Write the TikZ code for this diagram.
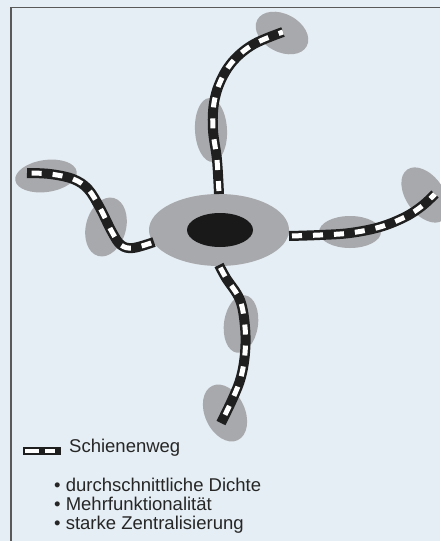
\documentclass[tikz,border=0pt]{standalone}
\usepackage{fontspec}
\setmainfont{Liberation Sans}
\begin{document}
\begin{tikzpicture}[x=1pt,y=-1pt,
  blob/.style={fill=blobgray},
  railbase/.style={line width=10pt, draw=black!88, line cap=butt},
  railtop/.style={line width=5pt, draw=white, dash pattern=on 10pt off 11pt, dash phase=-3pt},
  legtext/.style={font=\fontsize{18.5}{19}\selectfont, text=black!85, anchor=base west, inner sep=0pt}]
\definecolor{bgblue}{HTML}{E5EEF4}
\definecolor{blobgray}{HTML}{A8A9AD}
\useasboundingbox (0,0) rectangle (440,541);
\fill[bgblue] (0,0) rectangle (440,541);
\draw[line width=1.2pt, black!65] (11,541) -- (11,7.5) -- (440,7.5);

% satellite blobs
\fill[blob, rotate around={-28:(282,33)}] (282,33) ellipse (28 and 19);
\fill[blob, rotate around={3:(211,130)}] (211,130) ellipse (16 and 32);
\fill[blob, rotate around={8:(46,176)}] (46,176) ellipse (31 and 16);
\fill[blob, rotate around={-15:(106,227)}] (106,227) ellipse (20 and 30);
\fill[blob] (350,232) ellipse (31 and 16);
\fill[blob, rotate around={35:(425,195)}] (425,195) ellipse (19 and 31);
\fill[blob, rotate around={-8:(241,324)}] (241,324) ellipse (17 and 29);
\fill[blob, rotate around={25:(225,413)}] (225,413) ellipse (20 and 30);

% central blob
\fill[blob] (219,230) ellipse (70 and 36);
\fill[black!90] (220,230) coordinate (core) ellipse (33 and 17);

% rail lines
\foreach \pts in {
  {(219,194) (217,160) (213,130) (214,103) (221,80) (234,60) (254,44) (283,32)},
  {(154,242) (133,248) (121,245) (112,232) (100,208) (88,189) (73,179) (50,174) (27,173)},
  {(289,236) (320,235) (350,233) (380,227) (405,217) (422,206) (435,194)},
  {(219,265) (226,278) (240,300) (245,327) (245,353) (241,377) (233,398) (221,423)}}{
  \draw[railbase] plot[smooth, tension=0.6] coordinates \pts;
  \draw[railtop] plot[smooth, tension=0.6] coordinates \pts;
}

% legend
\fill[black!88] (23,446.5) rectangle (61,454.5);
\fill[white] (24.5,449) rectangle (39,452.5);
\fill[white] (45,449) rectangle (55,452.5);
\node[legtext] (leg) at (69,452) {Schienenweg};
\node[legtext] (b1) at (54,491) {• durchschnittliche Dichte};
\node[legtext] (b2) at (54,510) {• Mehrfunktionalität};
\node[legtext] (b3) at (54,529) {• starke Zentralisierung};
\end{tikzpicture}
\end{document}
